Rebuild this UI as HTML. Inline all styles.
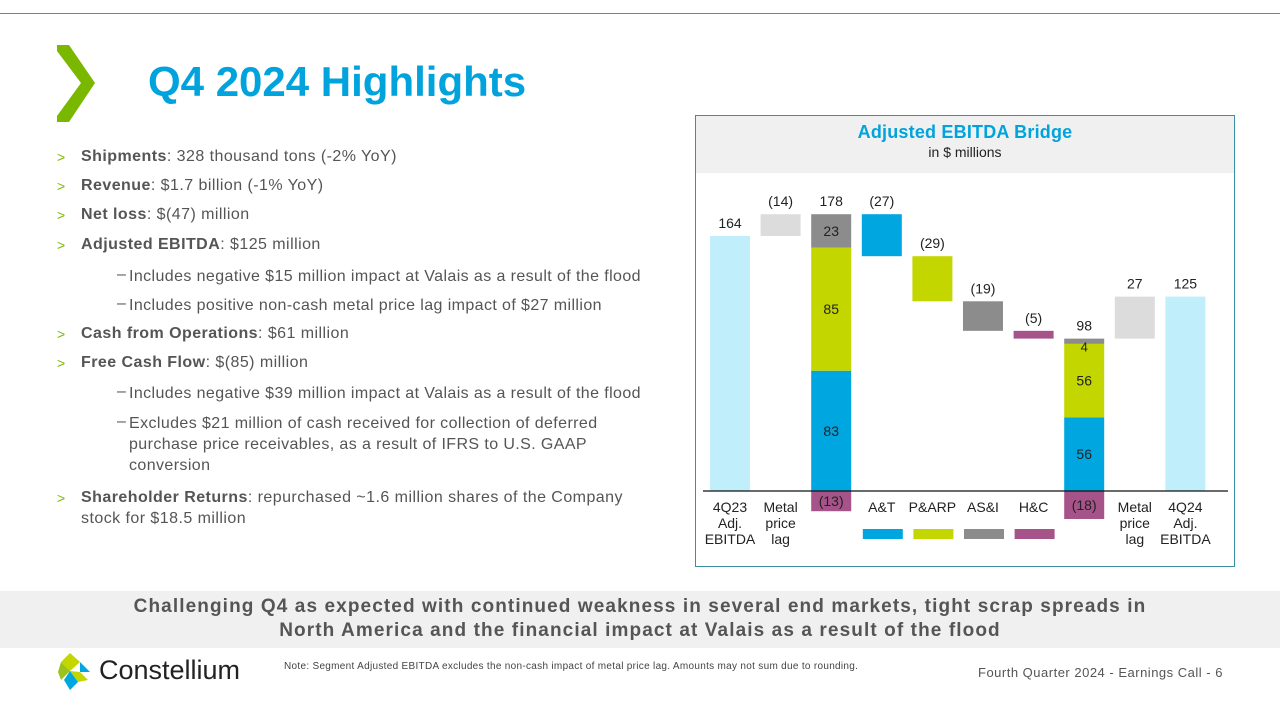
<!DOCTYPE html>
<html><head><meta charset="utf-8"><style>
body{margin:0;width:1280px;height:720px;position:relative;background:#fff;font-family:"Liberation Sans",sans-serif;overflow:hidden;color:#555}
.a{position:absolute}
.li{position:absolute;left:57px;font-size:16px;letter-spacing:0.45px;white-space:nowrap}
.li .g{color:#7ab800;position:absolute;left:0;font-size:14px;top:1px}
.li .t{position:absolute;left:24px}
.sub{position:absolute;left:117px;font-size:16px;letter-spacing:0.4px}
.sub .d{position:absolute;left:0;top:0}
.sub .t{position:absolute;left:12px;width:560px;line-height:21px;white-space:nowrap}
b{color:#555}
</style></head><body>
<div class="a" style="left:0;top:13px;width:1280px;height:1px;background:#3a9aa8"></div>
<svg class="a" style="left:55px;top:44px" width="44" height="80"><polygon points="2,1 14,1 40,39 14,78 2,78 2,72 26,39 2,7" fill="#7ab800"/></svg>
<div class="a" style="left:148px;top:58px;font-size:42px;font-weight:bold;color:#00a3dc">Q4 2024 Highlights</div>

<div>
<div class="li" style="top:148px"><span class="g">&gt;</span><span class="t"><b>Shipments</b>: 328 thousand tons (-2% YoY)</span></div>
<div class="li" style="top:177px"><span class="g">&gt;</span><span class="t"><b>Revenue</b>: $1.7 billion (-1% YoY)</span></div>
<div class="li" style="top:206px"><span class="g">&gt;</span><span class="t"><b>Net loss</b>: $(47) million</span></div>
<div class="li" style="top:236px"><span class="g">&gt;</span><span class="t"><b>Adjusted EBITDA</b>: $125 million</span></div>
<div class="sub" style="top:266px"><span class="d">–</span><span class="t">Includes negative $15 million impact at Valais as a result of the flood</span></div>
<div class="sub" style="top:295px"><span class="d">–</span><span class="t">Includes positive non-cash metal price lag impact of $27 million</span></div>
<div class="li" style="top:325px"><span class="g">&gt;</span><span class="t"><b>Cash from Operations</b>: $61 million</span></div>
<div class="li" style="top:354px"><span class="g">&gt;</span><span class="t"><b>Free Cash Flow</b>: $(85) million</span></div>
<div class="sub" style="top:383px"><span class="d">–</span><span class="t">Includes negative $39 million impact at Valais as a result of the flood</span></div>
<div class="sub" style="top:413px"><span class="d">–</span><span class="t">Excludes $21 million of cash received for collection of deferred<br>purchase price receivables, as a result of IFRS to U.S. GAAP<br>conversion</span></div>
<div class="li" style="top:487px;white-space:normal;width:590px;line-height:21px"><span class="g">&gt;</span><span class="t" style="width:566px"><b>Shareholder Returns</b>: repurchased ~1.6 million shares of the Company stock for $18.5 million</span></div>
</div>

<div class="a" style="left:695px;top:115px;width:538px;height:450px;border:1px solid #3a8fa3">
<div class="a" style="left:0;top:0;width:538px;height:57px;background:#f0f0f0;text-align:center">
<div style="margin-top:6px;font-size:18px;font-weight:bold;color:#00a3dc;letter-spacing:0.2px">Adjusted EBITDA Bridge</div>
<div style="font-size:14px;color:#222;margin-top:1px">in $ millions</div>
</div>
</div>
<svg id="chart" class="a" style="left:0;top:0" width="1280" height="720"></svg>

<div class="a" style="left:0;top:591px;width:1280px;height:57px;background:#f0f0f0;text-align:center;font-size:19px;font-weight:bold;color:#555;line-height:24px;padding-top:4px;box-sizing:border-box;letter-spacing:1.1px">Challenging Q4 as expected with continued weakness in several end markets, tight scrap spreads in<br>North America and the financial impact at Valais as a result of the flood</div>

<svg class="a" style="left:58px;top:652px" width="36" height="40"><polygon points="12,1 22,10 12,19 3,10" fill="#c3d600"/><polygon points="22,10 32,20 22,20" fill="#00a6e0"/><polygon points="3,10 12,19 3,28 0,20" fill="#9bc31c"/><polygon points="12,19 22,20 30,28 20,30" fill="#c3d600"/><polygon points="12,19 20,30 12,38 6,28" fill="#00a6e0"/></svg>
<div class="a" style="left:99px;top:655px;font-size:27px;color:#222">Constellium</div>
<div class="a" style="left:284px;top:661px;font-size:10px;letter-spacing:0.3px;color:#444">Note: Segment Adjusted EBITDA excludes the non-cash impact of metal price lag. Amounts may not sum due to rounding.</div>
<div class="a" style="left:978px;top:665px;font-size:13px;letter-spacing:0.5px;color:#555">Fourth Quarter 2024 -  Earnings Call - 6</div>

<script>
const categories=["4Q23 Adj. EBITDA","Metal price lag","Segments 4Q23","A&T","P&ARP","AS&I","H&C","Segments 4Q24","Metal price lag","4Q24 Adj. EBITDA"];
const startTotal=164;
const metalLag1=14;
const seg23=[83,85,23];
const seg23Neg=-13;
const deltas=[-27,-29,-19,-5];
const seg24=[56,56,4];
const seg24Neg=-18;
const metalLag2=27;
const endTotal=125;
const segColors=["#00a6e0","#c3d600","#8c8c8c"];
const deltaColors=["#00a6e0","#c3d600","#8c8c8c","#a6538a"];
const base=491, k=1.555;
function y(v){return base-v*k;}
function xL(i){return 710+i*50.6;}
const W=40;
const svg=document.getElementById('chart');
const NS="http://www.w3.org/2000/svg";
function rect(i,v0,v1,fill,name){const r=document.createElementNS(NS,'rect');
r.setAttribute('x',xL(i));r.setAttribute('y',y(Math.max(v0,v1)));r.setAttribute('width',W);r.setAttribute('height',Math.abs(v1-v0)*k);r.setAttribute('fill',fill);


svg.appendChild(r);}
function txt(i,yy,s,name,fs){const t=document.createElementNS(NS,'text');
t.setAttribute('x',xL(i)+W/2);t.setAttribute('y',yy);t.setAttribute('text-anchor','middle');t.setAttribute('font-size',fs||14);t.setAttribute('fill','#222');t.setAttribute('font-family','Liberation Sans, sans-serif');t.textContent=s;


svg.appendChild(t);}
function lbl(v){return v<0?'('+(-v)+')':String(v);}
function stack(i,segs,neg,nm){
  const sum=segs.reduce((a,b)=>a+b,0), total=sum+neg, f=total/sum;
  let c=0;segs.forEach((v,j)=>{const v0=c*f,v1=(c+v)*f;rect(i,v0,v1,segColors[j],'bar-'+nm+'-'+j);
    if(v1-v0>8)txt(i,y((v0+v1)/2)+5,String(v),'value-'+nm+'-'+j);else txt(i,y(v1)+13,String(v),'value-'+nm+'-'+j,13);c+=v;});
  rect(i,neg,0,'#a6538a','bar-'+nm+'-hc');txt(i,y(neg/2)+5,lbl(neg),'value-'+nm+'-hc');
  txt(i,y(total)-8,String(total),'value-'+nm+'-total');
  return total;}
rect(0,0,startTotal,'#c0eefa','bar-4q23');txt(0,y(startTotal)-8,String(startTotal),'value-4q23');
const top1=startTotal+metalLag1;
rect(1,startTotal,top1,'#dcdcdc','bar-metal-lag-1');txt(1,y(top1)-8,lbl(-metalLag1),'value-metal-lag-1');
let run=stack(2,seg23,seg23Neg,'seg23');
deltas.forEach((d,j)=>{rect(3+j,run,run+d,deltaColors[j],'bar-delta-'+j);txt(3+j,y(run)-8,lbl(d),'value-delta-'+j);run+=d;});
const s2=stack(7,seg24,seg24Neg,'seg24');
rect(8,s2,s2+metalLag2,'#dcdcdc','bar-metal-lag-2');txt(8,y(s2+metalLag2)-8,String(metalLag2),'value-metal-lag-2');
rect(9,0,endTotal,'#c0eefa','bar-4q24');txt(9,y(endTotal)-8,String(endTotal),'value-4q24');
const ax=document.createElementNS(NS,'line');ax.setAttribute('x1',703);ax.setAttribute('x2',1228);ax.setAttribute('y1',base);ax.setAttribute('y2',base);ax.setAttribute('stroke','#111');ax.setAttribute('stroke-width',1.3);


svg.appendChild(ax);
const xlabels=[["4Q23","Adj.","EBITDA"],["Metal","price","lag"],[],["A&T"],["P&ARP"],["AS&I"],["H&C"],[],["Metal","price","lag"],["4Q24","Adj.","EBITDA"]];
xlabels.forEach((ls,i)=>ls.forEach((s,j)=>txt(i,512+j*16,s,'x-label-'+i+'-'+j)));
for(let j=0;j<4;j++){const r=document.createElementNS(NS,'rect');r.setAttribute('x',xL(3+j)+1);r.setAttribute('y',529);r.setAttribute('width',W);r.setAttribute('height',10);r.setAttribute('fill',deltaColors[j]);


svg.appendChild(r);}
</script>
</body></html>
